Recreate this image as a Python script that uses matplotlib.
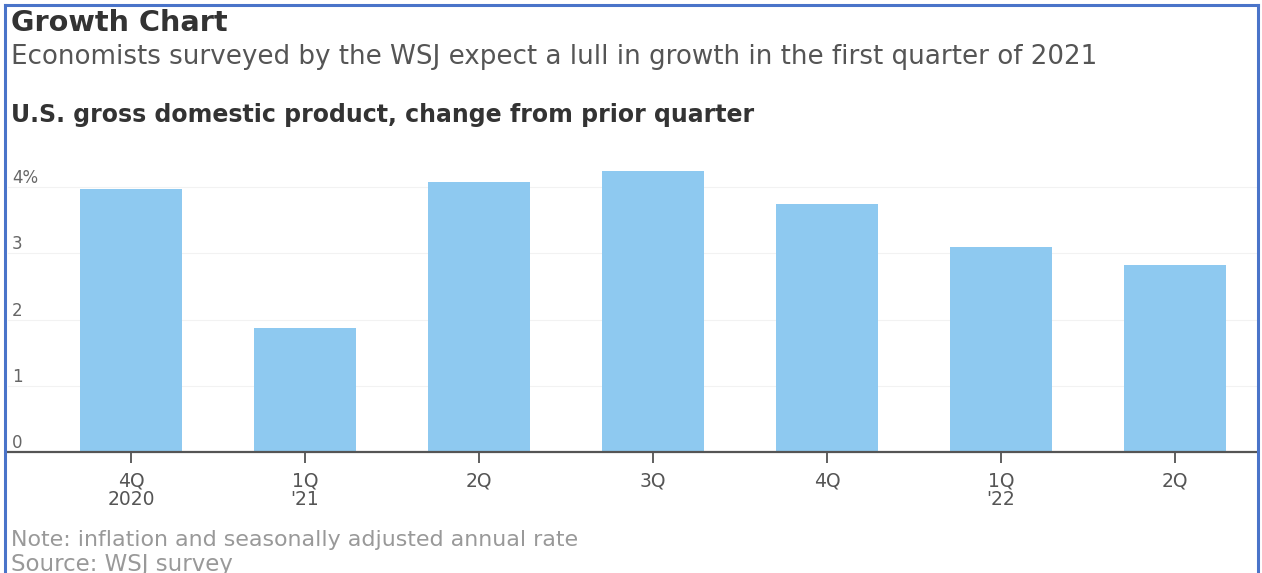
import matplotlib
matplotlib.use("Agg")
import matplotlib.pyplot as plt
from matplotlib.lines import Line2D

categories = ["4Q\n2020", "1Q\n'21", "2Q", "3Q", "4Q", "1Q\n'22", "2Q"]
gdp_change = [3.97, 1.87, 4.08, 4.24, 3.74, 3.10, 2.82]
ytick_values = [0, 1, 2, 3, 4]
ytick_labels = ["0", "1", "2", "3", "4%"]

plt.rcParams['font.family'] = ['DejaVu Sans']

W, H = 1262, 573
fig = plt.figure(figsize=(W / 100, H / 100), dpi=100)
fig.patch.set_facecolor("white")
renderer = fig.canvas.get_renderer()


def fitted_text(x_px, y_px, s, target_w, **kw):
    t = fig.text(x_px / W, 1 - y_px / H, s, fontsize=14, va="center", ha="left", **kw)
    w = t.get_window_extent(renderer).width
    t.set_fontsize(14 * target_w / w)
    return t


ax = fig.add_axes([8 / W, 1 - 452 / H, (1258 - 8) / W, (452 - 165) / H])
x = list(range(len(categories)))
ax.bar(x, gdp_change, width=0.59, color="#8ec9f0", zorder=2)
ax.set_xlim(-0.707, 6.477)
ax.set_ylim(0, (452 - 165) / 66.25)

ax.set_yticks(ytick_values)
ax.set_yticklabels(ytick_labels)
ax.yaxis.set_tick_params(length=0, pad=-3, labelsize=12, labelcolor="#666666")
for lab in ax.get_yticklabels():
    lab.set_ha("left")
    lab.set_va("bottom")
ax.grid(axis="y", color="#f2f2f2", linewidth=0.8, zorder=0)

ax.set_xticks(x)
ax.set_xticklabels(categories, linespacing=1.0)
ax.xaxis.set_tick_params(length=8, width=1.2, color="#444444", labelsize=13.5,
                         labelcolor="#555555", pad=6)

for s in ["top", "right", "left"]:
    ax.spines[s].set_visible(False)
ax.spines["bottom"].set_color("#555555")
ax.spines["bottom"].set_linewidth(1.6)

fitted_text(11, 23, "Growth Chart", 218, fontweight="bold", color="#333333")
fitted_text(11, 57, "Economists surveyed by the WSJ expect a lull in growth in the first quarter of 2021",
            1088, color="#555555")
fitted_text(11, 115, "U.S. gross domestic product, change from prior quarter", 744,
            fontweight="bold", color="#333333")
fitted_text(11, 540, "Note: inflation and seasonally adjusted annual rate", 566, color="#999999")
fitted_text(11, 564, "Source: WSJ survey", 222, color="#999999")

# blue frame around the image
border = "#4a74c9"
fig.add_artist(Line2D([5 / W, 5 / W], [0, 1 - 5 / H], transform=fig.transFigure, color=border, lw=2.2))
fig.add_artist(Line2D([5 / W, 1258 / W], [1 - 5 / H, 1 - 5 / H], transform=fig.transFigure, color=border, lw=2.2))
fig.add_artist(Line2D([1258 / W, 1258 / W], [0, 1 - 5 / H], transform=fig.transFigure, color=border, lw=2.2))

fig.savefig("out.png", dpi=100, facecolor="white")
